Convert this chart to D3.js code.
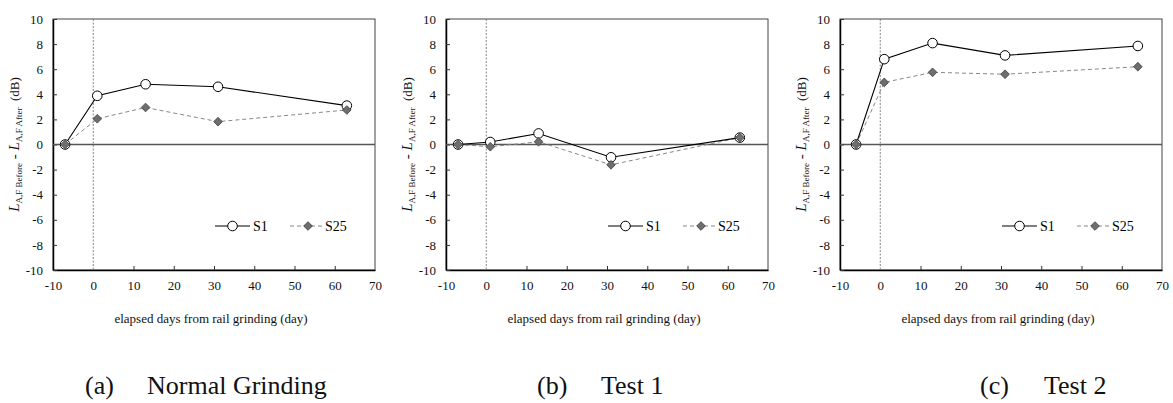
<!DOCTYPE html>
<html>
<head>
<meta charset="utf-8">
<script src="https://cdn.jsdelivr.net/npm/d3@7"></script>
<style>
  body { margin: 0; background: #fff; }
  svg text { font-family: "Liberation Serif", "Times New Roman", "DejaVu Serif", serif; }
</style>
</head>
<body>
<div id="chart"></div>
<script>
// Data
var panelNames = ["(a)", "(b)", "(c)"];
var panelTitles = ["Normal Grinding", "Test 1", "Test 2"];

var daysA = [-7, 1, 13, 31, 63];
var daysB = [-7, 1, 13, 31, 63];
var daysC = [-6, 1, 13, 31, 64];

var s1A = [0, 3.88, 4.8, 4.6, 3.1];
var s25A = [0, 2.05, 2.95, 1.82, 2.75];
var s1B = [0, 0.2, 0.88, -1.02, 0.55];
var s25B = [0, -0.18, 0.22, -1.62, 0.55];
var s1C = [0, 6.8, 8.08, 7.1, 7.85];
var s25C = [0, 4.95, 5.75, 5.6, 6.2];

var xTicks = [-10, 0, 10, 20, 30, 40, 50, 60, 70];
var yTicks = [-10, -8, -6, -4, -2, 0, 2, 4, 6, 8, 10];

// caption placement (left x of label and of title)
var panels = [
  { days: daysA, s1: s1A, s25: s25A, left: 53, capX: 85, titleX: 147 },
  { days: daysB, s1: s1B, s25: s25B, left: 446, capX: 537, titleX: 601 },
  { days: daysC, s1: s1C, s25: s25C, left: 840, capX: 980, titleX: 1044 }
];

var svgWidth = 1173;
var svgHeight = 403;
var plotW = 322;
var plotTop = 19;
var plotBottom = 270;
var serif = "'Liberation Serif', 'Times New Roman', serif";

var svg = d3.select("#chart")
  .append("svg")
  .attr("width", svgWidth)
  .attr("height", svgHeight)
  .style("font-family", serif);

panels.forEach(function(p, i) {

  var x = d3.scaleLinear().domain([-10, 70]).range([p.left, p.left + plotW]);
  var y = d3.scaleLinear().domain([-10, 10]).range([plotBottom, plotTop]);

  var g = svg.append("g");

  // frame
  g.append("rect")
    .attr("x", x(-10))
    .attr("y", y(10))
    .attr("width", plotW)
    .attr("height", plotBottom - plotTop)
    .attr("fill", "none")
    .attr("stroke", "#444")
    .attr("stroke-width", 1);

  // axes with inner ticks
  var xAxis = d3.axisBottom(x).tickValues(xTicks).tickFormat(d => String(d))
    .tickSizeInner(-4).tickSizeOuter(0).tickPadding(11);
  var yAxis = d3.axisLeft(y).tickValues(yTicks).tickFormat(d => String(d))
    .tickSizeInner(-4).tickSizeOuter(0).tickPadding(10);

  var gx = g.append("g")
    .attr("transform", `translate(0, ${plotBottom})`)
    .call(xAxis);
  var gy = g.append("g")
    .attr("transform", `translate(${x(-10)}, 0)`)
    .call(yAxis);

  [gx, gy].forEach(function(a) {
    a.attr("font-family", serif);
    a.select(".domain").attr("stroke", "#000").attr("stroke-width", 1.5);
    a.selectAll(".tick line").attr("stroke", "#333");
    a.selectAll(".tick text")
      .style("font-family", serif)
      .attr("font-size", 13)
      .attr("fill", "#111");
  });
  gx.selectAll(".tick").filter(function(d) { return d === -10 || d === 0 || d === 70; })
    .select("line").remove();

  // zero lines
  g.append("line")
    .attr("x1", x(-10)).attr("x2", x(70))
    .attr("y1", y(0)).attr("y2", y(0))
    .attr("stroke", "#555")
    .attr("stroke-width", 1.5);

  g.append("line")
    .attr("x1", x(0)).attr("x2", x(0))
    .attr("y1", y(10)).attr("y2", y(-10))
    .attr("stroke", "#666")
    .attr("stroke-width", 0.8)
    .attr("stroke-dasharray", "2,1.5");

  var s1Pts = p.days.map(function(d, k) { return [d, p.s1[k]]; });
  var s25Pts = p.days.map(function(d, k) { return [d, p.s25[k]]; });

  var line = d3.line()
    .x(d => x(d[0]))
    .y(d => y(d[1]));

  g.append("path")
    .attr("d", line(s25Pts))
    .attr("fill", "none")
    .attr("stroke", "#888")
    .attr("stroke-width", 1)
    .attr("stroke-dasharray", "4,3");

  g.append("path")
    .attr("d", line(s1Pts))
    .attr("fill", "none")
    .attr("stroke", "#000")
    .attr("stroke-width", 1.1);

  g.selectAll(".s1pt")
    .data(s1Pts)
    .enter()
    .append("circle")
    .attr("cx", d => x(d[0]))
    .attr("cy", d => y(d[1]))
    .attr("r", 4.8)
    .attr("fill", "#fff")
    .attr("stroke", "#000")
    .attr("stroke-width", 1);

  var diamond = d3.symbol().type(d3.symbolDiamond2).size(48);

  g.selectAll(".s25pt")
    .data(s25Pts)
    .enter()
    .append("path")
    .attr("d", diamond)
    .attr("transform", d => `translate(${x(d[0])}, ${y(d[1])})`)
    .attr("fill", "#6e6e6e")
    .attr("stroke", "#3a3a3a")
    .attr("stroke-width", 0.8);

  // legend
  var ly = 226;
  var lx = x(-10) + 162;
  g.append("line")
    .attr("x1", lx).attr("x2", lx + 35)
    .attr("y1", ly).attr("y2", ly)
    .attr("stroke", "#000").attr("stroke-width", 1.1);
  g.append("circle")
    .attr("cx", lx + 17.5).attr("cy", ly).attr("r", 4.8)
    .attr("fill", "#fff").attr("stroke", "#000");
  g.append("text")
    .attr("x", lx + 38).attr("y", ly + 5)
    .attr("font-size", 14)
    .text("S1");

  var lx2 = lx + 75;
  g.append("line")
    .attr("x1", lx2).attr("x2", lx2 + 33)
    .attr("y1", ly).attr("y2", ly)
    .attr("stroke", "#888").attr("stroke-width", 1)
    .attr("stroke-dasharray", "4,3");
  g.append("path")
    .attr("d", diamond)
    .attr("transform", `translate(${lx2 + 18}, ${ly})`)
    .attr("fill", "#6e6e6e")
    .attr("stroke", "#3a3a3a")
    .attr("stroke-width", 0.8);
  g.append("text")
    .attr("x", lx2 + 35).attr("y", ly + 5)
    .attr("font-size", 14)
    .text("S25");

  // y axis title
  var yt = g.append("text")
    .attr("transform", `translate(${x(-10) - 34}, ${y(0)}) rotate(-90)`)
    .attr("text-anchor", "middle")
    .attr("font-size", 15)
    .attr("fill", "#111");
  yt.append("tspan").attr("font-style", "italic").text("L");
  yt.append("tspan").attr("font-size", 9).attr("dy", 3).text("A,F Before");
  yt.append("tspan").attr("dy", -3).text(" - ");
  yt.append("tspan").attr("font-style", "italic").text("L");
  yt.append("tspan").attr("font-size", 9).attr("dy", 3).text("A,F After");
  yt.append("tspan").attr("dy", -3).attr("font-size", 13).text("\u00a0\u00a0(dB)");

  // x axis title
  g.append("text")
    .attr("x", x(30) - 3)
    .attr("y", 323)
    .attr("text-anchor", "middle")
    .attr("font-size", 13)
    .attr("fill", "#111")
    .text("elapsed days from rail grinding (day)");

  // panel caption
  g.append("text")
    .attr("x", p.capX)
    .attr("y", 394)
    .attr("font-size", 26)
    .attr("fill", "#111")
    .text(panelNames[i]);
  g.append("text")
    .attr("x", p.titleX)
    .attr("y", 394)
    .attr("font-size", 26)
    .attr("fill", "#111")
    .text(panelTitles[i]);
});
</script>
</body>
</html>
